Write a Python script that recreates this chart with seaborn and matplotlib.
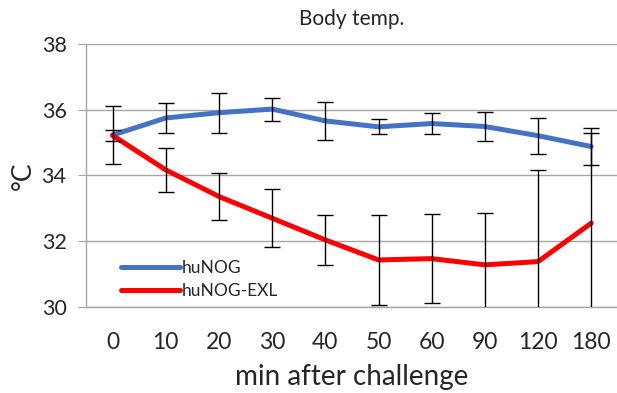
import pandas as pd
import numpy as np
import matplotlib
matplotlib.use("Agg")
import matplotlib.pyplot as plt
import seaborn as sns

# datos
minutos = ['0', '10', '20', '30', '40', '50', '60', '90', '120', '180']
hunog = [35.23, 35.75, 35.91, 36.02, 35.66, 35.48, 35.58, 35.49, 35.21, 34.88]
hunog_err = [0.87, 0.46, 0.61, 0.35, 0.59, 0.23, 0.33, 0.45, 0.55, 0.55]
hunog_exl = [35.22, 34.17, 33.36, 32.70, 32.04, 31.43, 31.47, 31.28, 31.38, 32.55]
hunog_exl_err = [0.17, 0.67, 0.73, 0.88, 0.77, 1.37, 1.35, 1.58, 2.79, 2.74]

df = pd.DataFrame({
    'pos': list(range(len(minutos))) * 2,
    'temp': hunog + hunog_exl,
    'grupo': ['huNOG'] * len(minutos) + ['huNOG-EXL'] * len(minutos),
})

sns.set_style("white")
plt.rcParams['font.family'] = ['Lato', 'DejaVu Sans']

fig = plt.figure(figsize=(6.17, 3.93), dpi=100)
ax = fig.add_axes([0.1394, 0.219, 0.862, 0.669])

sns.lineplot(data=df, x='pos', y='temp', hue='grupo',
             palette={'huNOG': '#4472C4', 'huNOG-EXL': '#FF0000'},
             linewidth=3.6, ax=ax, legend=True)

x = np.arange(len(minutos))
ax.errorbar(x, hunog, yerr=hunog_err, fmt='none', ecolor='black',
            elinewidth=1, capsize=6, capthick=1, zorder=5)
ax.errorbar(x, hunog_exl, yerr=hunog_exl_err, fmt='none', ecolor='black',
            elinewidth=1, capsize=6, capthick=1, zorder=5)

ax.set_xlim(-0.5, 9.5)
ax.set_ylim(30, 38)
ax.set_yticks([30, 32, 34, 36, 38])
ax.set_xticks(x)
ax.set_xticklabels(minutos)
ax.set_xticks(np.arange(-0.5, 10, 1), minor=True)
ax.tick_params(axis='x', which='major', length=0, pad=18, labelsize=16.5)
ax.tick_params(axis='x', which='minor', length=6, color='#A6A6A6', direction='out')
ax.tick_params(axis='y', length=6, color='#A6A6A6', labelsize=15.5, pad=8, left=True)

ax.grid(axis='y', color='#A6A6A6', linewidth=1)
ax.set_axisbelow(True)
for s in ['top', 'right']:
    ax.spines[s].set_visible(False)
for s in ['left', 'bottom']:
    ax.spines[s].set_color('#A6A6A6')
    ax.spines[s].set_linewidth(1)

ax.set_title('Body temp.', fontsize=15, pad=14)
ax.set_xlabel('min after challenge', fontsize=20, labelpad=8)
ax.set_ylabel('°C', fontsize=19, labelpad=4)

leg = ax.legend(loc='lower left', bbox_to_anchor=(0.05, -0.002), frameon=False,
                fontsize=12.5, handlelength=3.4, handletextpad=0.1,
                labelspacing=0.4, borderaxespad=0.1)
for h in leg.get_lines():
    h.set_linewidth(3.6)
    h.set_solid_capstyle('round')

fig.savefig('out.png', dpi=100)
